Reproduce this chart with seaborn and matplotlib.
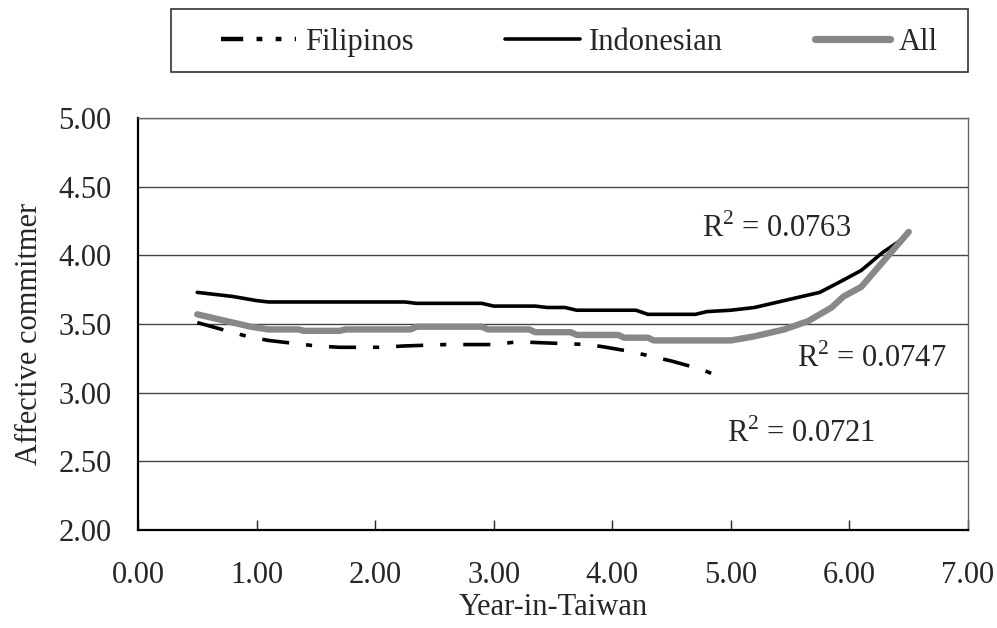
import matplotlib
matplotlib.use("Agg")
import matplotlib.pyplot as plt
from matplotlib.lines import Line2D
from matplotlib.patches import Rectangle
import seaborn as sns

# trend curves
fil_x = [0.50, 0.75, 0.92, 1.10, 1.30, 1.50, 1.70, 2.05, 2.25, 2.60, 3.00, 3.20, 3.50, 3.80, 3.95, 4.15, 4.30, 4.50, 4.75, 4.95]
fil_y = [3.51, 3.45, 3.41, 3.38, 3.36, 3.34, 3.33, 3.33, 3.34, 3.35, 3.35, 3.37, 3.36, 3.35, 3.33, 3.30, 3.27, 3.23, 3.17, 3.10]

ind_x = [0.50, 0.60, 0.80, 1.00, 1.10, 1.50, 2.00, 2.25, 2.35, 2.90, 3.00, 3.35, 3.45, 3.60, 3.70, 4.20, 4.30, 4.70, 4.80,
         5.00, 5.20, 5.50, 5.75, 5.95, 6.10, 6.28, 6.45]
ind_y = [3.73, 3.72, 3.70, 3.67, 3.66, 3.66, 3.66, 3.66, 3.65, 3.65, 3.63, 3.63, 3.62, 3.62, 3.60, 3.60, 3.57, 3.57, 3.59,
         3.60, 3.62, 3.68, 3.73, 3.82, 3.89, 4.02, 4.12]

all_x = [0.50, 0.70, 0.95, 1.10, 1.35, 1.40, 1.70, 1.75, 2.30, 2.35, 2.90, 2.95, 3.30, 3.35, 3.65, 3.70, 4.05, 4.10, 4.30,
         4.35, 5.00, 5.20, 5.45, 5.65, 5.85, 5.95, 6.10, 6.25, 6.37, 6.50]
all_y = [3.57, 3.53, 3.48, 3.46, 3.46, 3.45, 3.45, 3.46, 3.46, 3.48, 3.48, 3.46, 3.46, 3.44, 3.44, 3.42, 3.42, 3.40, 3.40,
         3.38, 3.38, 3.41, 3.46, 3.52, 3.62, 3.70, 3.77, 3.92, 4.04, 4.17]

series_names = ["Filipinos", "Indonesian", "All"]
r2_labels = ["0.0721", "0.0763", "0.0747"]
r2_pos = [(4.97, 2.64), (4.76, 4.13), (5.56, 3.19)]

x_ticks = [0, 1, 2, 3, 4, 5, 6, 7]
y_ticks = [2.0, 2.5, 3.0, 3.5, 4.0, 4.5, 5.0]

sns.set_style("white")
plt.rcParams["font.family"] = ["Liberation Serif", "DejaVu Serif"]
plt.rcParams["mathtext.fontset"] = "custom"
plt.rcParams["mathtext.rm"] = "Liberation Serif"
FS = 22

fig = plt.figure(figsize=(9.97, 6.28), dpi=100)
ax = fig.add_axes([0.1384, 0.1561, 0.8325, 0.6561])

fil_dash = (0, (7.5, 4.7, 1.7, 4.7))
sns.lineplot(x=fil_x, y=fil_y, ax=ax, color="black", lw=2.6, linestyle=fil_dash, sort=False, estimator=None)
sns.lineplot(x=ind_x, y=ind_y, ax=ax, color="black", lw=2.6, sort=False, estimator=None)
sns.lineplot(x=all_x, y=all_y, ax=ax, color="#888888", lw=4.6, sort=False, estimator=None)

for lab, (tx, ty) in zip(r2_labels, r2_pos):
    ax.text(tx, ty, r"$\mathrm{R}^{2}$ = " + lab, fontsize=FS, ha="left", va="baseline")

ax.set_xlim(0, 7)
ax.set_ylim(2, 5)
ax.set_xticks(x_ticks)
ax.set_yticks(y_ticks)
ax.set_xticklabels([f"{v:.2f}" for v in x_ticks])
ax.set_yticklabels([f"{v:.2f}" for v in y_ticks])
ax.tick_params(axis="x", direction="in", length=7, width=1, pad=22, labelsize=FS, bottom=True)
ax.tick_params(axis="y", direction="in", length=0, pad=19, labelsize=FS, left=True)

ax.grid(axis="y", color="#444444", lw=1)
ax.set_axisbelow(True)
for side in ["left", "bottom"]:
    ax.spines[side].set_color("black")
    ax.spines[side].set_linewidth(1.6)
for side in ["right", "top"]:
    ax.spines[side].set_color("#666666")
    ax.spines[side].set_linewidth(1)

ax.set_xlabel("Year-in-Taiwan", fontsize=FS, va="top")
ax.xaxis.set_label_coords(0.5, -0.153)
ax.set_ylabel("Affective commitmer", fontsize=FS)
ax.yaxis.set_label_coords(-0.113, 0.476)

handles = [
    Line2D([], [], color="black", lw=3.2, linestyle=(0, (5, 3, 1.3, 3, 1.3, 3))),
    Line2D([], [], color="black", lw=2.6),
    Line2D([], [], color="#888888", lw=5.2),
]
fig.legend(handles, series_names, loc="center", bbox_to_anchor=(0.581, 0.933), ncol=3, frameon=False,
           fontsize=FS, handlelength=2.45, handletextpad=0.3, columnspacing=3.0, borderpad=0)
fig.patches.append(Rectangle((171 / 997, 1 - 72 / 628), (968 - 171) / 997, 63 / 628,
                             transform=fig.transFigure, fill=False, ec="#333333", lw=1.2))

fig.savefig("out.png", dpi=100)
